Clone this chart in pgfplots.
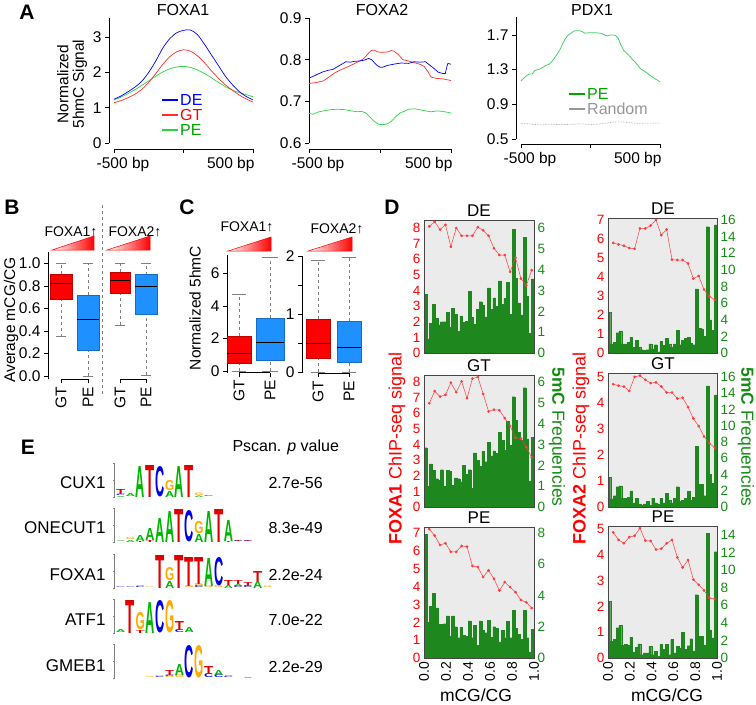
\documentclass[border=0pt]{standalone}
\usepackage{fontspec}
\setmainfont{Liberation Sans}
\usepackage{pgfplots}
\usepackage{pgfplotstable}
\usepackage{graphicx}
\pgfplotsset{compat=1.18}
\newcommand\fs[1]{\fontsize{#1}{#1}\selectfont}
\definecolor{lblue}{RGB}{0,0,255}
\definecolor{lred}{RGB}{255,45,45}
\definecolor{lgreen}{RGB}{40,215,60}
\definecolor{tgreen}{RGB}{0,165,0}
\definecolor{pgreen}{RGB}{70,210,100}
\definecolor{rgray}{RGB}{150,150,150}
\definecolor{bred}{RGB}{255,0,0}
\definecolor{bblue}{RGB}{30,144,255}
\definecolor{dbg}{RGB}{235,235,235}
\definecolor{dframe}{RGB}{70,70,70}
\definecolor{bargreen}{RGB}{30,135,30}
\definecolor{dgreen}{RGB}{20,140,20}
\definecolor{dred}{RGB}{255,0,0}
\definecolor{dline}{RGB}{255,60,60}
\definecolor{LA}{RGB}{0,180,0}
\definecolor{LC}{RGB}{0,0,225}
\definecolor{LG}{RGB}{255,170,0}
\definecolor{LT}{RGB}{225,0,0}
\pgfplotsset{
  /pgf/number format/assume math mode=true,
  Rstyle/.style={scale only axis, anchor=south west, axis lines*=left, axis line style={draw=none},
    tick align=outside, major tick length=4pt, tick style={black, line width=0.6pt},
    tick label style={font=\fs{15.5}}, clip=false},
  Dbar/.style={scale only axis, anchor=north west, xmin=0, xmax=1, ymin=0, axis on top,
    axis background/.style={fill=dbg}, axis line style={draw=dframe, line width=0.8pt},
    ytick pos=right, yticklabel pos=right, xtick=\empty, major tick length=0pt,
    yticklabel style={text=dgreen, font=\fs{13.5}}},
  Dline/.style={scale only axis, anchor=north west, xmin=0, xmax=1, ymin=0,
    axis line style={draw=none}, ytick pos=left, yticklabel pos=left, xtick=\empty,
    major tick length=0pt, yticklabel style={text=dred, font=\fs{13.5}}},
  Dx/.style={xtick={0,0.2,0.4,0.6,0.8,1}, xticklabels={0.0,0.2,0.4,0.6,0.8,1.0},
    xticklabel style={rotate=90, anchor=east, font=\fs{14}}},
  Dbars/.style={ybar interval, fill=bargreen, draw=bargreen, line width=0.2pt},
  Dred/.style={color=dline, line width=0.5pt, mark=*, mark size=1.1pt, mark options={fill=dline, draw=dline}},
  Logo/.style={anchor=south west, x=9.8pt, y=1pt, xmin=0, xmax=16, ymin=0, ymax=34, hide axis, clip=false},
}
% box: #1 left, #2 centre, #3 right, #4 lower whisker, #5 q1, #6 median, #7 q3, #8 upper whisker, #9 colour
\newcommand\bx[9]{%
 \draw[gray, dashed, line width=0.5pt] (axis cs:#2,#7) -- (axis cs:#2,#8);
 \draw[gray, dashed, line width=0.5pt] (axis cs:#2,#4) -- (axis cs:#2,#5);
 \draw[fill=#9, draw=#9!75!black, line width=0.5pt] (axis cs:#1,#5) rectangle (axis cs:#3,#7);
 \draw[black, line width=1pt] (axis cs:#1,#6) -- (axis cs:#3,#6);
}
% caps: #1 left, #2 right, #3 lower whisker, #4 upper whisker
\newcommand\caps[4]{%
 \draw[gray, line width=0.6pt] (axis cs:#1,#3) -- (axis cs:#2,#3);
 \draw[gray, line width=0.6pt] (axis cs:#1,#4) -- (axis cs:#2,#4);
}
\newcommand\LL[4]{\node[anchor=south west, inner sep=0pt, outer sep=0pt, text=L#2] at (axis cs:#1,#3) {\resizebox{9.2pt}{#4pt}{\bfseries #2}};}
\newcommand\logoaxis{%
 \draw[gray, line width=0.5pt] (axis cs:-0.15,0) -- (axis cs:-0.15,34);
 \draw[gray, line width=0.5pt] (axis cs:-0.15,0) -- (axis cs:-0.35,0);
 \draw[gray, line width=0.5pt] (axis cs:-0.15,17) -- (axis cs:-0.35,17);
 \draw[gray, line width=0.5pt] (axis cs:-0.15,34) -- (axis cs:-0.35,34);
}
\begin{document}
\pgfplotstableread{
x DEL GTL PEL DER GTR PER
0.000 2.83 2.85 7.9 4.9 3.64 6.44
0.025 0.68 1.0 2.27 1.1 1.0 1.9
0.050 1.42 2.07 3.29 1.3 1.4 2.1
0.075 2.33 1.76 4.15 2.45 2.5 3.45
0.100 1.67 1.36 3.2 2.65 2.6 3.75
0.125 1.35 1.29 2.16 1.1 1.1 1.46
0.150 1.5 1.79 2.16 1.1 1.1 1.53
0.175 1.5 1.0 2.2 1.3 1.2 1.46
0.200 1.94 1.75 2.7 1.9 2.0 2.38
0.225 1.23 1.71 1.4 0.7 0.5 0.69
0.250 2.14 1.04 2.7 1.5 1.1 1.23
0.275 1.86 1.4 2.0 0.7 0.4 1.61
0.300 1.04 1.36 1.3 0.4 0.2 0.38
0.325 1.78 1.21 1.95 0.3 0.4 0.57
0.350 1.46 1.99 1.47 0.4 0.7 0.57
0.375 1.51 1.56 1.4 1.1 0.2 1.34
0.400 2.96 1.79 2.38 0.5 1.1 0.38
0.425 1.7 0.89 1.3 1.0 0.5 0.77
0.450 1.39 2.6 2.1 0.15 0.3 0.19
0.475 2.09 2.23 0.82 1.4 1.1 1.53
0.500 2.46 1.95 2.38 0.9 0.5 0.96
0.525 2.3 2.69 1.78 1.8 1.7 1.53
0.550 1.73 2.18 1.62 1.1 0.8 0.38
0.575 3.12 3.12 2.42 0.7 0.5 2.1
0.600 2.09 2.45 1.34 1.1 1.1 0.57
0.625 2.65 2.7 2.0 2.7 2.5 1.34
0.650 2.25 2.57 1.9 1.0 0.7 1.15
0.675 3.46 3.58 1.04 1.5 0.8 2.9
0.700 2.33 3.19 1.78 1.8 1.1 0.96
0.725 2.61 2.73 1.3 1.9 1.9 1.4
0.750 3.4 4.13 2.33 1.2 0.8 2.2
0.775 1.86 2.96 1.3 1.0 1.2 0.8
0.800 5.92 5.3 3.07 7.7 7.5 7.2
0.825 3.59 4.16 1.9 3.0 2.8 2.5
0.850 2.41 3.58 1.51 2.9 2.8 2.5
0.875 1.83 3.19 1.19 2.0 1.4 1.5
0.900 5.56 5.73 3.07 15.2 14.9 14.2
0.925 2.72 3.27 1.3 4.0 4.0 3.2
0.950 0.94 1.25 0.39 2.7 2.9 2.3
0.975 3.56 3.35 1.84 15.4 13.8 12.1
1.000 3.56 3.35 1.84 15.4 13.8 12.1
}\bars
\pgfplotstableread{
x DEL GTL PEL DER GTR PER
0.048 8.1 6.64 7.22 5.79 4.72 4.87
0.097 8.4 7.42 6.86 5.71 4.66 4.58
0.146 7.9 7.07 6.33 5.64 4.63 4.45
0.195 8.2 7.18 6.43 5.52 4.46 4.69
0.244 6.8 7.96 5.95 5.48 5.0 4.74
0.293 8.0 7.35 5.95 6.55 5.05 5.04
0.342 7.5 8.04 6.28 6.55 4.89 4.55
0.391 7.5 6.96 6.24 6.7 4.76 4.54
0.440 7.5 8.22 5.16 7.0 4.79 4.21
0.489 8.05 8.32 5.1 6.2 4.63 4.24
0.538 7.85 7.24 4.54 6.5 4.4 4.45
0.587 7.5 6.12 4.91 4.91 4.4 4.58
0.636 6.7 6.23 4.44 4.89 4.17 3.9
0.685 6.27 6.2 3.78 4.89 4.2 3.51
0.734 6.27 5.69 4.25 4.71 3.84 3.8
0.783 5.19 5.19 3.97 3.91 3.4 3.04
0.832 6.1 4.43 3.69 4.05 3.11 2.84
0.881 4.76 4.39 3.25 3.34 2.71 2.62
0.930 4.32 3.83 3.12 2.98 2.45 2.33
0.979 5.3 3.18 2.8 2.8 2.28 2.29
}\reds
\begin{tikzpicture}
\path[use as bounding box] (0pt,0pt) rectangle (756pt,-705pt);
% panel letters
\node[font=\fs{21}\bfseries] at (27pt,-12pt) {A};
\node[font=\fs{21}\bfseries] at (12pt,-207pt) {B};
\node[font=\fs{21}\bfseries] at (187pt,-207pt) {C};
\node[font=\fs{21}\bfseries] at (392pt,-207pt) {D};
\node[font=\fs{21}\bfseries] at (28pt,-447pt) {E};

% ===== A: FOXA1 =====
\node[font=\fs{16}] at (183pt,-10pt) {FOXA1};
\node[font=\fs{16}] at (382pt,-10pt) {FOXA2};
\node[font=\fs{16}] at (592pt,-10pt) {PDX1};
\node[rotate=90, align=center, font=\fs{15.5}] at (72pt,-84pt) {Normalized\\5hmC Signal};
\begin{axis}[Rstyle, at={(109pt,-149pt)}, width=144pt, height=131pt,
  xmin=-536, xmax=500, ymin=-0.17, ymax=3.54,
  xtick={-500,0,500}, xticklabels={,,}, ytick={0,1,2,3}, yticklabels={0,1,2,3}]
\draw[line width=0.6pt] (axis cs:-536,0) -- (axis cs:-536,3.54);
\draw[line width=0.6pt] (axis cs:-500,-0.17) -- (axis cs:500,-0.17);
\node[anchor=north, yshift=-5pt, xshift=9pt, font=\fs{15.5}] at (axis cs:-500,-0.17) {-500 bp};
\node[anchor=north east, yshift=-5pt, xshift=5pt, font=\fs{15.5}] at (axis cs:500,-0.17) {500 bp};
\addplot[lgreen, line width=0.7pt, smooth] coordinates {(-500,1.22) (-450,1.3) (-400,1.4) (-350,1.51) (-300,1.63) (-250,1.76) (-200,1.89) (-150,2.01) (-100,2.1) (-50,2.15) (0,2.17) (50,2.14) (100,2.07) (150,1.97) (200,1.85) (250,1.72) (300,1.6) (350,1.5) (400,1.43) (450,1.37) (500,1.31)};
\addplot[lred, line width=0.7pt, smooth] coordinates {(-500,1.14) (-450,1.2) (-400,1.28) (-350,1.38) (-300,1.52) (-250,1.72) (-200,1.96) (-150,2.22) (-100,2.44) (-50,2.58) (0,2.64) (50,2.6) (100,2.47) (150,2.28) (200,2.05) (250,1.84) (300,1.65) (350,1.5) (400,1.36) (450,1.25) (500,1.16)};
\addplot[lblue, line width=0.7pt, smooth] coordinates {(-500,1.24) (-450,1.33) (-400,1.45) (-350,1.58) (-300,1.75) (-250,2.0) (-200,2.32) (-150,2.68) (-100,2.95) (-50,3.12) (0,3.19) (50,3.2) (100,3.07) (150,2.8) (200,2.5) (250,2.2) (300,1.9) (350,1.66) (400,1.46) (450,1.32) (500,1.22)};
\end{axis}
\draw[lblue, line width=2.5pt] (162pt,-100pt) -- (178pt,-100pt);
\draw[lred, line width=2.5pt] (162pt,-115pt) -- (178pt,-115pt);
\draw[lgreen, line width=2.5pt] (162pt,-130pt) -- (178pt,-130pt);
\node[anchor=west, text=lblue, font=\fs{16}, inner sep=1pt] at (179pt,-100pt) {DE};
\node[anchor=west, text=bred, font=\fs{16}, inner sep=1pt] at (179pt,-115pt) {GT};
\node[anchor=west, text=tgreen, font=\fs{16}, inner sep=1pt] at (179pt,-130pt) {PE};

% ===== A: FOXA2 =====
\begin{axis}[Rstyle, at={(309pt,-149pt)}, width=142pt, height=131pt,
  xmin=-500, xmax=500, ymin=0.5856, ymax=0.9,
  xtick={-500,0,500}, xticklabels={,,}, ytick={0.6,0.7,0.8,0.9}, yticklabels={0.6,0.7,0.8,0.9}]
\draw[line width=0.6pt] (axis cs:-500,0.6) -- (axis cs:-500,0.9);
\draw[line width=0.6pt] (axis cs:-500,0.5856) -- (axis cs:500,0.5856);
\node[anchor=north, yshift=-5pt, xshift=9pt, font=\fs{15.5}] at (axis cs:-500,0.5856) {-500 bp};
\node[anchor=north east, yshift=-5pt, xshift=5pt, font=\fs{15.5}] at (axis cs:500,0.5856) {500 bp};
\addplot[lgreen, line width=0.7pt] coordinates {(-500,.671)(-470,.669)(-440,.674)(-400,.677)(-350,.680)(-300,.681)(-250,.680)(-200,.677)(-160,.675)(-130,.676)(-100,.672)(-70,.662)(-40,.652)(-10,.645)(20,.644)(50,.646)(80,.652)(110,.663)(140,.672)(170,.676)(200,.681)(240,.682)(280,.680)(320,.677)(360,.675)(400,.677)(440,.676)(470,.674)(500,.672)};
\addplot[lred, line width=0.7pt] coordinates {(-500,.743)(-450,.745)(-400,.749)(-360,.758)(-320,.768)(-280,.775)(-240,.781)(-200,.787)(-160,.794)(-120,.801)(-100,.808)(-80,.816)(-60,.822)(-40,.823)(-20,.819)(0,.818)(30,.818)(60,.819)(80,.822)(100,.820)(130,.812)(160,.800)(200,.797)(240,.793)(280,.789)(310,.784)(340,.770)(360,.758)(400,.755)(440,.754)(500,.750)};
\addplot[lblue, line width=0.7pt] coordinates {(-500,.756)(-470,.760)(-440,.765)(-400,.771)(-370,.774)(-330,.777)(-300,.783)(-270,.789)(-240,.795)(-210,.794)(-180,.796)(-140,.797)(-110,.799)(-80,.803)(-60,.800)(-40,.793)(-20,.786)(0,.782)(20,.782)(50,.786)(80,.788)(110,.790)(150,.792)(200,.791)(240,.795)(280,.794)(320,.795)(350,.787)(380,.779)(410,.770)(440,.767)(460,.767)(470,.782)(478,.791)(490,.790)(500,.789)};
\end{axis}

% ===== A: PDX1 =====
\begin{axis}[Rstyle, at={(516pt,-144pt)}, width=144pt, height=127pt,
  xmin=-536, xmax=500, ymin=0.442, ymax=1.9075,
  xtick={-500,0,500}, xticklabels={,,}, ytick={0.5,0.9,1.3,1.7}, yticklabels={0.5,0.9,1.3,1.7}]
\draw[line width=0.6pt] (axis cs:-536,0.5) -- (axis cs:-536,1.9075);
\draw[line width=0.6pt] (axis cs:-500,0.442) -- (axis cs:500,0.442);
\node[anchor=north, yshift=-5pt, xshift=9pt, font=\fs{15.5}] at (axis cs:-500,0.442) {-500 bp};
\node[anchor=north east, yshift=-5pt, xshift=5pt, font=\fs{15.5}] at (axis cs:500,0.442) {500 bp};
\addplot[rgray, line width=0.6pt, densely dotted] coordinates {(-500,.68)(-450,.675)(-400,.668)(-350,.662)(-300,.672)(-250,.667)(-200,.666)(-150,.668)(-100,.672)(-50,.675)(0,.663)(50,.672)(100,.680)(150,.692)(200,.698)(250,.695)(300,.685)(350,.680)(400,.683)(450,.682)(500,.683)};
\addplot[pgreen, line width=0.8pt] coordinates {(-500,1.17)(-480,1.20)(-460,1.23)(-440,1.25)(-420,1.25)(-400,1.29)(-380,1.30)(-360,1.31)(-340,1.33)(-320,1.35)(-300,1.36)(-280,1.39)(-260,1.43)(-240,1.48)(-220,1.53)(-200,1.60)(-180,1.66)(-160,1.70)(-140,1.72)(-120,1.745)(-100,1.75)(-80,1.75)(-60,1.74)(-40,1.72)(-20,1.725)(0,1.725)(20,1.727)(40,1.725)(60,1.722)(80,1.718)(100,1.70)(120,1.69)(140,1.70)(160,1.70)(180,1.695)(200,1.66)(220,1.58)(240,1.52)(260,1.49)(280,1.46)(300,1.42)(320,1.39)(340,1.35)(360,1.31)(380,1.29)(400,1.27)(420,1.245)(440,1.22)(460,1.20)(480,1.18)(500,1.16)};
\end{axis}
\draw[tgreen, line width=2.5pt] (569pt,-94pt) -- (585pt,-94pt);
\draw[rgray, line width=2.5pt] (569pt,-109pt) -- (585pt,-109pt);
\node[anchor=west, text=tgreen, font=\fs{16}, inner sep=1pt] at (586pt,-94pt) {PE};
\node[anchor=west, text=rgray, font=\fs{16}, inner sep=1pt] at (586pt,-109pt) {Random};

% ===== B =====
\node[rotate=90, font=\fs{15.5}] at (11pt,-320pt) {Average mCG/CG};
\node[font=\fs{14}] at (71pt,-232pt) {FOXA1↑};
\node[font=\fs{14}] at (135pt,-232pt) {FOXA2↑};
\shade[left color=white, right color=red] (52pt,-250pt) -- (94pt,-250pt) -- (94pt,-236pt) -- cycle;
\draw[red, line width=0.5pt] (52pt,-250pt) -- (94pt,-250pt) -- (94pt,-236pt) -- cycle;
\shade[left color=white, right color=red] (107pt,-250pt) -- (150pt,-250pt) -- (150pt,-236pt) -- cycle;
\draw[red, line width=0.5pt] (107pt,-250pt) -- (150pt,-250pt) -- (150pt,-236pt) -- cycle;
\draw[gray, dashed, line width=0.6pt] (102pt,-205pt) -- (102pt,-395pt);
\begin{axis}[Rstyle, at={(48pt,-379.4pt)}, width=112pt, height=127.4pt,
  xmin=48, xmax=160, ymin=-0.03, ymax=1.1,
  ytick={0,0.2,0.4,0.6,0.8,1.0}, yticklabels={0.0,0.2,0.4,0.6,0.8,1.0},
  xtick={61,88,120,146}, xticklabels={GT,PE,GT,PE}, xticklabel style={rotate=90, anchor=east}]
\draw[line width=0.6pt] (axis cs:48,-0.03) -- (axis cs:48,1.1);
\draw[line width=0.6pt] (axis cs:61,-0.03) -- (axis cs:88,-0.03);
\draw[line width=0.6pt] (axis cs:120,-0.03) -- (axis cs:146,-0.03);
\bx{50}{61}{72}{0.35}{0.68}{0.82}{0.905}{1.0}{bred}
\caps{56}{66}{0.35}{1.0}
\bx{77}{88}{99}{0.0}{0.23}{0.5}{0.72}{1.0}{bblue}
\caps{83}{93}{0.0}{1.0}
\bx{110}{120}{130}{0.45}{0.73}{0.85}{0.92}{1.0}{bred}
\caps{115}{125}{0.45}{1.0}
\bx{135}{146}{157}{0.01}{0.55}{0.79}{0.9}{1.0}{bblue}
\caps{141}{151}{0.01}{1.0}
\end{axis}

% ===== C =====
\node[rotate=90, font=\fs{15.5}] at (195pt,-308pt) {Normalized 5hmC};
\node[font=\fs{14}] at (247pt,-227pt) {FOXA1↑};
\node[font=\fs{14}] at (337pt,-229pt) {FOXA2↑};
\shade[left color=white, right color=red] (228pt,-251pt) -- (271pt,-251pt) -- (271pt,-237pt) -- cycle;
\draw[red, line width=0.5pt] (228pt,-251pt) -- (271pt,-251pt) -- (271pt,-237pt) -- cycle;
\shade[left color=white, right color=red] (308pt,-251pt) -- (352pt,-251pt) -- (352pt,-237pt) -- cycle;
\draw[red, line width=0.5pt] (308pt,-251pt) -- (352pt,-251pt) -- (352pt,-237pt) -- cycle;
\begin{axis}[Rstyle, at={(227pt,-372.6pt)}, width=65pt, height=117.65pt,
  xmin=227, xmax=292, ymin=-0.1, ymax=7.14,
  ytick={0,2,4,6}, yticklabels={0,2,4,6},
  xtick={239,270}, xticklabels={GT,PE}, xticklabel style={rotate=90, anchor=east}]
\draw[line width=0.6pt] (axis cs:227,-0.1) -- (axis cs:227,7.14);
\draw[line width=0.6pt] (axis cs:239,-0.1) -- (axis cs:270,-0.1);
\bx{227}{239}{251}{0.0}{0.5}{1.05}{2.15}{4.7}{bred}
\caps{232}{246}{0.0}{4.7}
\bx{256}{270}{284}{0.0}{0.68}{1.75}{3.26}{7.0}{bblue}
\caps{262}{278}{0.0}{7.0}
\end{axis}
\begin{axis}[Rstyle, at={(302pt,-373.2pt)}, width=65pt, height=117.2pt,
  xmin=302, xmax=367, ymin=-0.02, ymax=2.0,
  ytick={0,0.5,1,1.5,2}, yticklabels={0,,1,,2},
  xtick={318,349}, xticklabels={GT,PE}, xticklabel style={rotate=90, anchor=east}]
\draw[line width=0.6pt] (axis cs:302,-0.02) -- (axis cs:302,2.0);
\draw[line width=0.6pt] (axis cs:318,-0.02) -- (axis cs:349,-0.02);
\bx{306}{318}{330}{0.0}{0.24}{0.5}{0.91}{1.93}{bred}
\caps{311}{325}{0.0}{1.93}
\bx{337}{349}{361}{0.0}{0.17}{0.42}{0.88}{1.97}{bblue}
\caps{342}{356}{0.0}{1.97}
\end{axis}

% ===== D =====
\node[font=\fs{17}] at (479pt,-211pt) {DE};
\node[font=\fs{17}] at (479pt,-366pt) {GT};
\node[font=\fs{17}] at (479pt,-518pt) {PE};
\node[font=\fs{17}] at (663pt,-209pt) {DE};
\node[font=\fs{17}] at (663pt,-364pt) {GT};
\node[font=\fs{17}] at (663pt,-517pt) {PE};
\node[rotate=90, text=dred, font=\fs{18}] at (397pt,-448pt) {\textbf{FOXA1} ChIP-seq signal};
\node[rotate=-90, text=dgreen, font=\fs{17.5}] at (557pt,-437pt) {\textbf{5mC} Frequencies};
\node[rotate=90, text=dred, font=\fs{18}] at (581pt,-448pt) {\textbf{FOXA2} ChIP-seq signal};
\node[rotate=-90, text=dgreen, font=\fs{17.5}] at (746pt,-437pt) {\textbf{5mC} Frequencies};
\node[font=\fs{17.5}] at (476pt,-695pt) {mCG/CG};
\node[font=\fs{17.5}] at (667pt,-695pt) {mCG/CG};
% left column
\begin{axis}[Dbar, at={(424pt,-220pt)}, width=110pt, height=133pt, ymax=6.38, ytick={0,1,2,3,4,5,6}]
\addplot[Dbars] table[x=x,y=DEL]{\bars};
\end{axis}
\begin{axis}[Dline, at={(424pt,-220pt)}, width=110pt, height=133pt, ymax=8.51, ytick={0,1,2,3,4,5,6,7,8}]
\addplot[Dred] table[x=x,y=DEL]{\reds};
\end{axis}
\begin{axis}[Dbar, at={(424pt,-375pt)}, width=110pt, height=132pt, ymax=6.34, ytick={0,1,2,3,4,5,6}]
\addplot[Dbars] table[x=x,y=GTL]{\bars};
\end{axis}
\begin{axis}[Dline, at={(424pt,-375pt)}, width=110pt, height=132pt, ymax=8.45, ytick={0,1,2,3,4,5,6,7,8}]
\addplot[Dred] table[x=x,y=GTL]{\reds};
\end{axis}
\begin{axis}[Dbar, Dx, at={(424pt,-527pt)}, width=110pt, height=131pt, ymax=8.38, ytick={0,2,4,6,8}]
\addplot[Dbars] table[x=x,y=PEL]{\bars};
\end{axis}
\begin{axis}[Dline, at={(424pt,-527pt)}, width=110pt, height=131pt, ymax=7.34, ytick={0,1,2,3,4,5,6,7}]
\addplot[Dred] table[x=x,y=PEL]{\reds};
\end{axis}
% right column
\begin{axis}[Dbar, at={(608pt,-218pt)}, width=109pt, height=135pt, ymax=16.24, ytick={0,2,4,6,8,10,12,14,16}]
\addplot[Dbars] table[x=x,y=DER]{\bars};
\end{axis}
\begin{axis}[Dline, at={(608pt,-218pt)}, width=109pt, height=135pt, ymax=7.1, ytick={0,1,2,3,4,5,6,7}]
\addplot[Dred] table[x=x,y=DER]{\reds};
\end{axis}
\begin{axis}[Dbar, at={(608pt,-373pt)}, width=109pt, height=134pt, ymax=16.49, ytick={0,2,4,6,8,10,12,14,16}]
\addplot[Dbars] table[x=x,y=GTR]{\bars};
\end{axis}
\begin{axis}[Dline, at={(608pt,-373pt)}, width=109pt, height=134pt, ymax=5.15, ytick={0,1,2,3,4,5}]
\addplot[Dred] table[x=x,y=GTR]{\reds};
\end{axis}
\begin{axis}[Dbar, Dx, at={(608pt,-526pt)}, width=109pt, height=132pt, ymax=15.02, ytick={0,2,4,6,8,10,12,14}]
\addplot[Dbars] table[x=x,y=PER]{\bars};
\end{axis}
\begin{axis}[Dline, at={(608pt,-526pt)}, width=109pt, height=132pt, ymax=5.12, ytick={0,1,2,3,4,5}]
\addplot[Dred] table[x=x,y=PER]{\reds};
\end{axis}

% ===== E =====
\node[anchor=west, font=\fs{16}] at (229pt,-447pt) {Pscan. \textit{p} value};
\node[anchor=east, font=\fs{17}] at (109pt,-483pt) {CUX1};
\node[anchor=east, font=\fs{17}] at (109pt,-528pt) {ONECUT1};
\node[anchor=east, font=\fs{17}] at (109pt,-575pt) {FOXA1};
\node[anchor=east, font=\fs{17}] at (109pt,-620pt) {ATF1};
\node[anchor=east, font=\fs{17}] at (109pt,-666pt) {GMEB1};
\node[anchor=west, font=\fs{16}] at (265pt,-483pt) {2.7e-56};
\node[anchor=west, font=\fs{16}] at (265pt,-528pt) {8.3e-49};
\node[anchor=west, font=\fs{16}] at (265pt,-575pt) {2.2e-24};
\node[anchor=west, font=\fs{16}] at (265pt,-620pt) {7.0e-22};
\node[anchor=west, font=\fs{16}] at (265pt,-667pt) {2.2e-29};
% CUX1
\begin{axis}[Logo, at={(116pt,-497pt)}]
\logoaxis
\LL{0}{A}{0}{1}\LL{0}{C}{1}{1.5}\LL{0}{T}{2.5}{5}
\LL{1}{G}{0}{1}\LL{1}{A}{1}{3}
\LL{2}{A}{0}{31}
\LL{3}{T}{0}{32}
\LL{4}{C}{0}{30}
\LL{5}{A}{0}{6}\LL{5}{G}{6}{10}
\LL{6}{A}{0}{31}
\LL{7}{T}{0}{32}
\LL{8}{A}{0}{1.5}\LL{8}{G}{1.5}{2.5}
\LL{9}{C}{0}{0.8}
\end{axis}
% ONECUT1
\begin{axis}[Logo, at={(116pt,-542pt)}]
\logoaxis
\LL{0}{A}{0}{0.8}
\LL{1}{A}{0}{2}\LL{1}{G}{2}{2}
\LL{2}{T}{0}{1}\LL{2}{A}{1}{6}
\LL{3}{T}{0}{2}\LL{3}{A}{2}{12}
\LL{4}{A}{0}{24}
\LL{5}{A}{0}{31}
\LL{6}{T}{0}{33}
\LL{7}{C}{0}{31}
\LL{8}{A}{0}{8}\LL{8}{G}{8}{12}
\LL{9}{A}{0}{31}
\LL{10}{T}{0}{33}
\LL{11}{T}{0}{1}\LL{11}{A}{1}{21}
\LL{12}{C}{0}{1}\LL{12}{T}{1}{1}
\LL{13}{C}{0}{1}\LL{13}{T}{1}{1}
\end{axis}
% FOXA1
\begin{axis}[Logo, at={(116pt,-588pt)}]
\logoaxis
\LL{0}{C}{0}{0.6}
\LL{1}{C}{0}{0.6}
\LL{2}{C}{0}{1.5}
\LL{3}{G}{0}{0.6}
\LL{4}{T}{0}{33}
\LL{5}{A}{0}{7}\LL{5}{G}{7}{13}
\LL{6}{T}{0}{33}
\LL{7}{G}{0}{2}\LL{7}{T}{2}{29}
\LL{8}{C}{0}{2}\LL{8}{G}{2}{2}\LL{8}{T}{4}{27}
\LL{9}{G}{0}{2}\LL{9}{A}{2}{28}
\LL{10}{G}{0}{2}\LL{10}{C}{2}{28}
\LL{11}{A}{0}{3}\LL{11}{T}{3}{5}
\LL{12}{C}{0}{2}\LL{12}{A}{2}{2}\LL{12}{T}{4}{4}
\LL{13}{C}{0}{2}\LL{13}{T}{2}{4}
\LL{14}{A}{0}{7}\LL{14}{T}{7}{10}
\LL{15}{G}{0}{1.5}
\end{axis}
% ATF1
\begin{axis}[Logo, at={(116pt,-633pt)}]
\logoaxis
\LL{0}{G}{0}{1}\LL{0}{A}{1}{3}
\LL{1}{T}{0}{33}
\LL{2}{T}{0}{3}\LL{2}{G}{3}{17}
\LL{3}{A}{0}{31}
\LL{4}{C}{0}{32}
\LL{5}{G}{0}{32}
\LL{6}{C}{0}{3}\LL{6}{T}{3}{9}
\LL{7}{G}{0}{1}\LL{7}{A}{1}{5}
\end{axis}
% GMEB1
\begin{axis}[Logo, at={(116pt,-678pt)}]
\logoaxis
\LL{3}{G}{0}{0.8}
\LL{4}{C}{0}{1}\LL{4}{G}{1}{1}
\LL{5}{G}{0}{1.5}\LL{5}{C}{1.5}{1.5}\LL{5}{T}{3}{5}
\LL{6}{G}{0}{3}\LL{6}{A}{3}{11}
\LL{7}{C}{0}{32}
\LL{8}{G}{0}{32}
\LL{9}{C}{0}{4}\LL{9}{T}{4}{8}
\LL{10}{C}{0}{3}\LL{10}{A}{3}{5}
\LL{11}{C}{0}{1.5}
\LL{13}{A}{0}{1}
\end{axis}
\end{tikzpicture}
\end{document}
